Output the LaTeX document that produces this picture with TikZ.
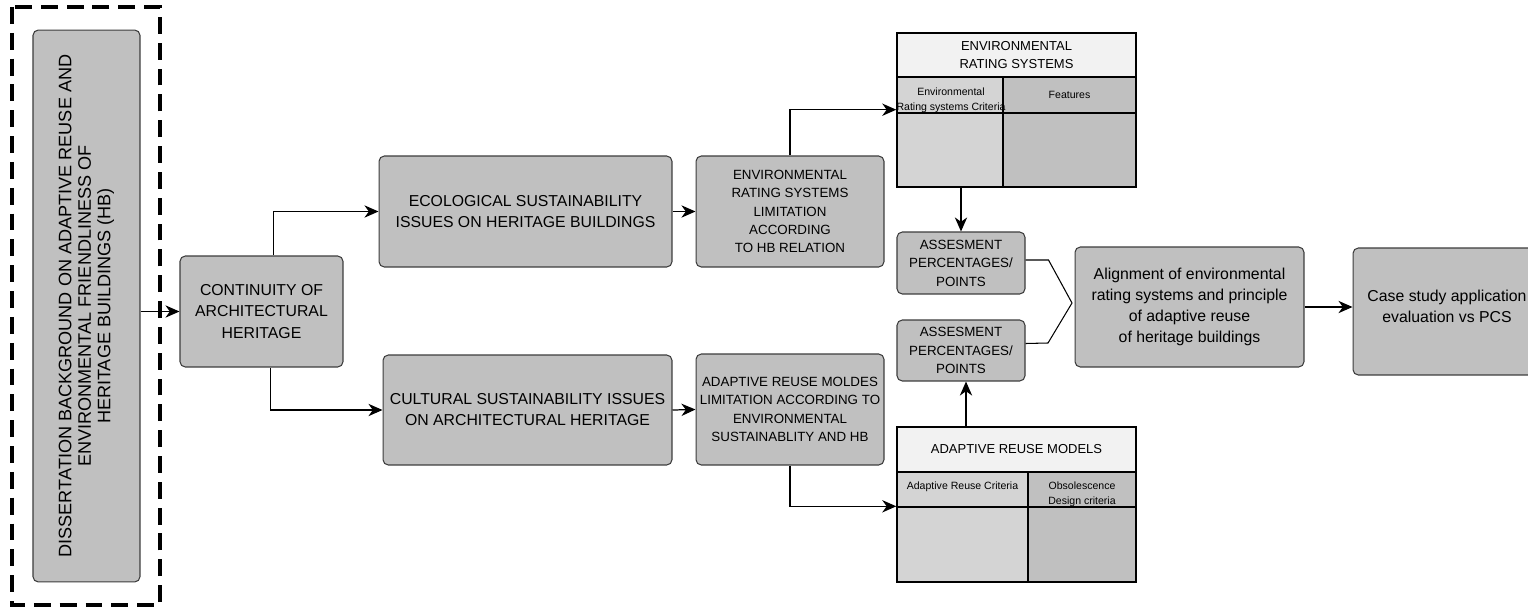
\documentclass[tikz,border=0pt]{standalone}
\usepackage{fontspec}
\setmainfont{Liberation Sans}
\usetikzlibrary{arrows.meta,positioning}

\definecolor{boxgrey}{RGB}{192,192,192}
\definecolor{cellgrey}{RGB}{212,212,212}
\definecolor{headgrey}{RGB}{242,242,242}
\definecolor{edgegrey}{RGB}{60,60,60}

\begin{document}
\begin{tikzpicture}[x=0.02cm,y=-0.02cm,->,>={Stealth[length=8pt,width=7pt,inset=2.5pt]},line width=0.7pt,
    main node/.style={rectangle,rounded corners=3pt,draw=edgegrey,line width=0.6pt,fill=boxgrey,align=center,inner sep=0pt,font=\fontsize{9}{12}\selectfont},
    small node/.style={main node,font=\fontsize{7.6}{10.5}\selectfont},
    head node/.style={rectangle,draw=black,line width=0.8pt,fill=headgrey,align=center,inner sep=0pt,minimum width=4.78cm,font=\fontsize{7.4}{10.2}\selectfont},
    cell node/.style={rectangle,draw=black,line width=0.8pt,fill=cellgrey,align=center,inner sep=0pt,font=\fontsize{6}{8.3}\selectfont},
    dark cell/.style={cell node,fill=boxgrey},
    cell text/.style={align=center,inner sep=0pt,font=\fontsize{6}{8.3}\selectfont}]

    \useasboundingbox[fill=white] (0,0) rectangle (1528,612);
    \clip (0,0) rectangle (1528,612);

    % left column
    \node[main node,rotate=90,minimum width=11.04cm,minimum height=2.14cm,font=\fontsize{10.3}{11.1}\selectfont] (1) at (86.5,306)
      {DISSERTATION BACKGROUND ON ADAPTIVE REUSE AND\\ENVIRONMENTAL FRIENDLINESS OF\\HERITAGE BUILDINGS (HB)};
    \draw[-,line width=2pt,dash pattern=on 9.6pt off 5.1pt] (12,7) rectangle (160,605);

    \node[main node,minimum width=3.26cm,minimum height=2.22cm] (2) at (261.5,311.5) {CONTINUITY OF\\ARCHITECTURAL\\HERITAGE};
    \node[main node,minimum width=5.86cm,minimum height=2.22cm] (3) at (525.5,211.5) {ECOLOGICAL SUSTAINABILITY\\ISSUES ON HERITAGE BUILDINGS};
    \node[main node,minimum width=5.78cm,minimum height=2.2cm] (4) at (527.5,410) {CULTURAL SUSTAINABILITY ISSUES\\ON ARCHITECTURAL HERITAGE};
    \node[small node,minimum width=3.76cm,minimum height=2.22cm] (5) at (790,211.5) {ENVIRONMENTAL\\RATING SYSTEMS\\LIMITATION\\ACCORDING\\TO HB RELATION};
    \node[small node,minimum width=3.76cm,minimum height=2.22cm] (6) at (790,409.5) {ADAPTIVE REUSE MOLDES\\LIMITATION ACCORDING TO\\ENVIRONMENTAL\\SUSTAINABLITY AND HB};

    % environmental rating systems table
    \node[head node,minimum height=0.88cm] (7) at (1016.5,55) {ENVIRONMENTAL\\RATING SYSTEMS};
    \node[cell node,minimum width=2.12cm,minimum height=0.72cm] (7a) at (950,95) {};
    \node[dark cell,minimum width=2.66cm,minimum height=0.72cm] (7b) at (1069.5,95) {Features};
    \node[cell node,minimum width=2.12cm,minimum height=1.48cm] (7c) at (950,150) {};
    \node[dark cell,minimum width=2.66cm,minimum height=1.48cm] (7d) at (1069.5,150) {};
    \node[cell text] (7t) at (951,100) {Environmental\\Rating systems Criteria};

    \node[small node,minimum width=2.56cm,minimum height=1.24cm] (8) at (961,263) {ASSESMENT\\PERCENTAGES/\\POINTS};
    \node[small node,minimum width=2.56cm,minimum height=1.22cm] (9) at (961,350.5) {ASSESMENT\\PERCENTAGES/\\POINTS};

    % adaptive reuse models table
    \node[head node,minimum height=0.9cm] (10) at (1016.5,449.5) {ADAPTIVE REUSE MODELS};
    \node[cell node,minimum width=2.62cm,minimum height=0.7cm] (10a) at (962.5,489.5) {};
    \node[dark cell,minimum width=2.16cm,minimum height=0.7cm] (10b) at (1082,489.5) {};
    \node[cell node,minimum width=2.62cm,minimum height=1.5cm] (10c) at (962.5,544.5) {};
    \node[dark cell,minimum width=2.16cm,minimum height=1.5cm] (10d) at (1082,544.5) {};
    \node[cell text] (10t) at (962.5,487) {Adaptive Reuse Criteria};
    \node[cell text] (10u) at (1082,494) {Obsolescence\\Design criteria};

    \node[main node,minimum width=4.58cm,minimum height=2.4cm] (11) at (1189.5,307) {Alignment of environmental\\rating systems and principle\\of adaptive reuse\\of heritage buildings};
    \node[main node,minimum width=3.76cm,minimum height=2.54cm] (12) at (1447,311.5) {};
    \node[align=center,inner sep=0pt,font=\fontsize{9}{12}\selectfont] (12t) at (1447,306.5) {Case study application\\evaluation vs PCS};
    \coordinate (m) at (1072,303);

    \draw (1.south |- 2.west) -- (2.west);
    \draw ([xshift=0.24cm]2.north) |- (3.west);
    \draw ([xshift=0.18cm]2.south) |- (4.west);
    \draw (3.east) -- (5.west);
    \draw (4.east) -- (6.west);
    \draw (5.north) |- ([yshift=0.08cm]7a.south west);
    \draw (6.south) |- (10c.north west);
    \draw (8.north |- 7c.south) -- (8.north);
    \draw ([xshift=0.1cm]9.south |- 10.north) -- ([xshift=0.1cm]9.south);
    \draw[-,line width=0.6pt] ([yshift=0.06cm]8.east) -- ++(23,0) -- (m) -- ++(-24,40) -- ([yshift=0.14cm]9.east);
    \draw (11.east) -- (11.east -| 12.west);
\end{tikzpicture}
\end{document}
